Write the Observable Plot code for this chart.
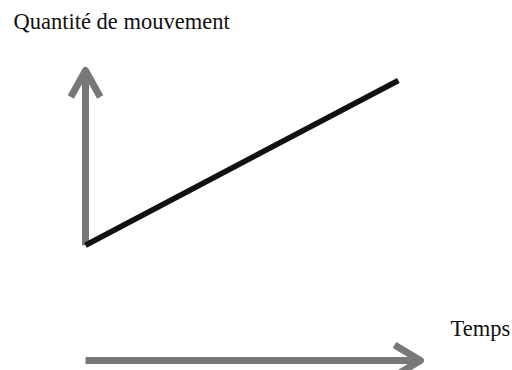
<!DOCTYPE html>
<html>
<head>
<meta charset="utf-8">
<script src="https://cdn.jsdelivr.net/npm/d3@7"></script>
<script src="https://cdn.jsdelivr.net/npm/@observablehq/plot@0.6"></script>
<style>
  html, body { margin: 0; padding: 0; background: #fff; }
</style>
</head>
<body>
<div id="chart"></div>
<script>
// Data (in abstract units: time and momentum)
const time = [0, 0.934];
const momentum = [0, 0.943];
const timeAxisSpan = [0, 1];
const momentumAxisSpan = [0, 1];
const timeAxisLevel = -0.66;
const yLabel = "Quantité de mouvement";
const xLabel = "Temps";

const linePoints = time.map((t, i) => ({t, p: momentum[i]}));
const verticalAxis = [{x1: 0, y1: momentumAxisSpan[0], x2: 0, y2: momentumAxisSpan[1]}];
const horizontalAxis = [{x1: timeAxisSpan[0], y1: timeAxisLevel, x2: timeAxisSpan[1], y2: timeAxisLevel}];

const chart = Plot.plot({
  width: 512,
  height: 370,
  marginLeft: 85,
  marginRight: 92,
  marginTop: 70,
  marginBottom: 10,
  x: {domain: [0, 1], axis: null},
  y: {domain: [timeAxisLevel, 1], axis: null},
  style: {fontFamily: "'Liberation Serif', 'Times New Roman', serif", fontSize: "22px", background: "#fff", color: "#111"},
  marks: [
    Plot.arrow(verticalAxis, {x1: "x1", y1: "y1", x2: "x2", y2: "y2", stroke: "#787878", strokeWidth: 7, headLength: 6.5, headAngle: 58, strokeLinecap: "butt", strokeLinejoin: "round"}),
    Plot.arrow(horizontalAxis, {x1: "x1", y1: "y1", x2: "x2", y2: "y2", stroke: "#787878", strokeWidth: 7, headLength: 6.5, headAngle: 62, strokeLinecap: "butt", strokeLinejoin: "round"}),
    Plot.line(linePoints, {x: "t", y: "p", stroke: "#111", strokeWidth: 5.5, strokeLinecap: "butt"}),
    Plot.text([yLabel], {text: d => d, frameAnchor: "top-left", textAnchor: "start", lineAnchor: "top", dx: -72, dy: -57, fill: "#111", fontSize: 22.5}),
    Plot.text([xLabel], {text: d => d, frameAnchor: "bottom-right", textAnchor: "start", lineAnchor: "bottom", dx: 30, dy: -25, fill: "#111", fontSize: 22.5})
  ]
});
document.getElementById("chart").appendChild(chart);
</script>
</body>
</html>
